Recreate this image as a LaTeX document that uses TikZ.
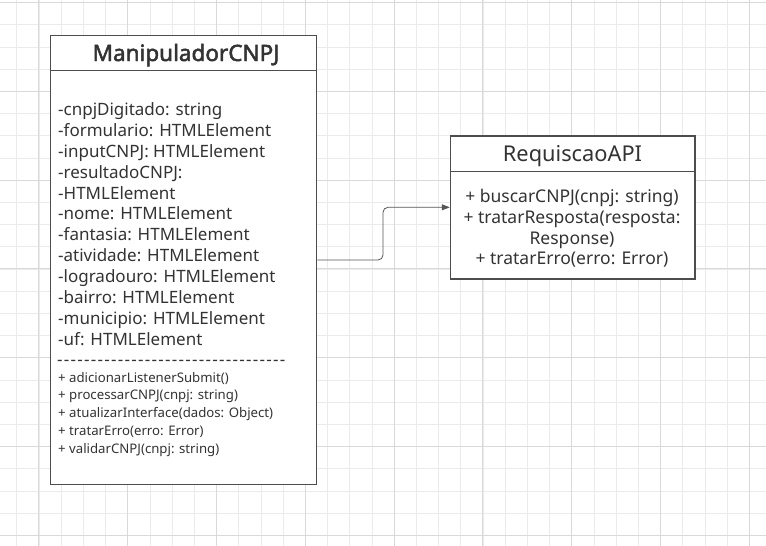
\documentclass[tikz,border=0pt]{standalone}
\usepackage{fontspec}
\setmainfont{Noto Sans}
\newfontfamily\titlebold{Noto Sans}[FakeBold=2.2]
\newfontfamily\dashfont{Noto Sans}[Ligatures=TeXOff, LetterSpace=7.5]
\usetikzlibrary{arrows.meta}
\definecolor{gridminor}{HTML}{EBEBEB}
\definecolor{gridmajor}{HTML}{D9D9D9}
\definecolor{boxline}{HTML}{4D4D4D}
\definecolor{txt}{HTML}{333333}
\definecolor{conncol}{HTML}{555555}
\tikzset{
  minor/.style={draw=gridminor, line width=0.8pt},
  major/.style={draw=gridmajor, line width=0.9pt},
  classbox/.style={draw=boxline, line width=1.2pt, fill=white, inner sep=0pt},
  attr/.style={anchor=base west, inner sep=0pt, text=txt, font=\fontsize{17}{20}\selectfont},
  meth/.style={anchor=base west, inner sep=0pt, text=txt, font=\fontsize{13.2}{16}\selectfont},
  ctr/.style={anchor=base, inner sep=0pt, text=txt, font=\fontsize{17.5}{20}\selectfont},
  conn/.style={draw=conncol, line width=0.8pt, rounded corners=5pt, -{Triangle[length=8pt,width=6pt]}}
}
\begin{document}
\begin{tikzpicture}[x=1pt,y=-1pt]
\useasboundingbox (0,0) rectangle (766,546);
\fill[white] (0,0) rectangle (766,546);
% grid
\foreach \k in {0,...,33} {\draw[minor] ({16.7+22.2*\k},0) -- ({16.7+22.2*\k},546);}
\foreach \k in {0,...,24} {\draw[minor] (0,{2.5+22.2*\k}) -- (766,{2.5+22.2*\k});}
\foreach \k in {1,5,...,33} {\draw[major] ({16.7+22.2*\k},0) -- ({16.7+22.2*\k},546);}
\foreach \k in {0,4,...,24} {\draw[major] (0,{2.5+22.2*\k}) -- (766,{2.5+22.2*\k});}
% ManipuladorCNPJ
\node[classbox, minimum width=266.5pt, minimum height=448.3pt] (m) at (183.5,260) {};
\draw[boxline, line width=1.2pt] (m.west |- 0,70.7) -- (m.east |- 0,70.7);
\node[anchor=base, inner sep=0pt, text=txt, font=\titlebold\fontsize{22.5}{26}\selectfont] (mt) at (186,61) {ManipuladorCNPJ};
\foreach \t [count=\i] in {-cnpjDigitado: string,-formulario: HTMLElement,-inputCNPJ: HTMLElement,-resultadoCNPJ:,-HTMLElement,-nome: HTMLElement,-fantasia: HTMLElement,-atividade: HTMLElement,-logradouro: HTMLElement,-bairro: HTMLElement,-municipio: HTMLElement,-uf: HTMLElement}
  {\node[attr] (a\i) at (58,{115.7+20.85*(\i-1)}) {\t};}
\node[anchor=base west, inner sep=0pt, text=txt, font=\dashfont\fontsize{17}{20}\selectfont] (dash) at (57,365) {----------------------------------};
\foreach \t [count=\i] in {+ adicionarListenerSubmit(),+ processarCNPJ(cnpj: string),+ atualizarInterface(dados: Object),+ tratarErro(erro: Error),+ validarCNPJ(cnpj: string)}
  {\node[meth] (mm\i) at (58,{382+17.75*(\i-1)}) {\t};}
% RequiscaoAPI
\node[classbox, minimum width=244.7pt, minimum height=143pt] (r) at (572.7,207.5) {};
\draw[boxline, line width=1.2pt] (r.west |- 0,171.7) -- (r.east |- 0,171.7);
\node[anchor=base, inner sep=0pt, text=txt, font=\fontsize{21.8}{25}\selectfont] (rt) at (572.5,161.7) {RequiscaoAPI};
\node[ctr] (r1) at (572,202.7) {+ buscarCNPJ(cnpj: string)};
\node[ctr] (r2) at (572,223.4) {+ tratarResposta(resposta:};
\node[ctr] (r3) at (572,244.1) {Response)};
\node[ctr] (r4) at (572,264.8) {+ tratarErro(erro: Error)};
% connector
\draw[conn] (m.east |- 0,260) -- (383,260) -- (383,207.3) -- (r.west |- 0,207.3);
\end{tikzpicture}
\end{document}
